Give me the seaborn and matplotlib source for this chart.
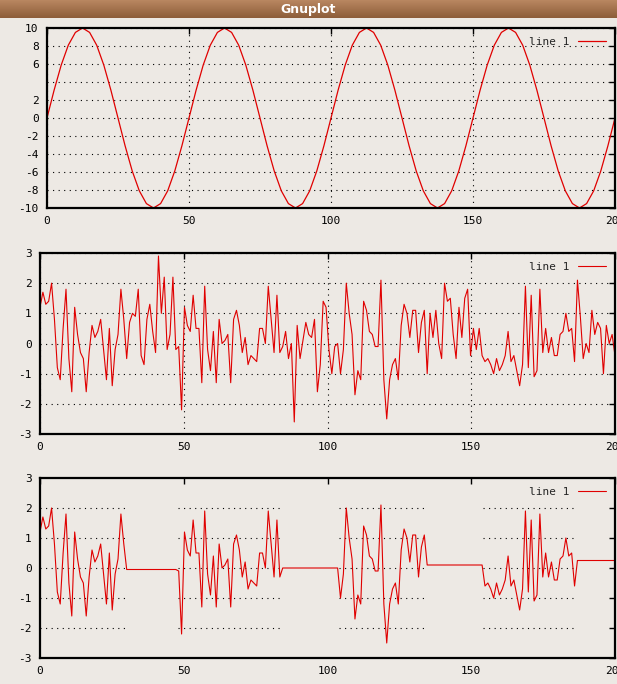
import numpy as np
import pandas as pd
import matplotlib
matplotlib.use("Agg")
import matplotlib.pyplot as plt
import seaborn as sns

sns.set_theme(style="white")
plt.rcParams['font.family'] = ['DejaVu Sans Mono', 'DejaVu Sans']

# --- data ---
sine_cycle = [0, 3.09, 5.88, 8.09, 9.51, 10, 9.51, 8.09, 5.88, 3.09,
              0, -3.09, -5.88, -8.09, -9.51, -10, -9.51, -8.09, -5.88, -3.09]
sine_vals = sine_cycle * 4 + [0.0]

noise_vals = [1.2, 1.7, 1.3, 1.4, 2.0, 0.8, -0.8, -1.2, 0.5, 1.8,
              -0.5, -1.6, 1.2, 0.3, -0.3, -0.5, -1.6, -0.3, 0.6, 0.2,
              0.4, 0.8, -0.2, -1.2, 0.5, -1.4, -0.2, 0.3, 1.8, 0.8,
              -0.5, 0.7, 1.0, 0.9, 1.8, -0.4, -0.7, 0.8, 1.3, 0.4,
              -0.3, 2.9, 1.0, 2.2, -0.2, 0.3, 2.2, -0.2, -0.1, -2.2,
              1.2, 0.6, 0.4, 1.6, 0.5, 0.5, -1.3, 1.9, -0.2, -0.9,
              0.4, -1.3, 0.8, 0.0, 0.1, 0.3, -1.3, 0.8, 1.1, 0.6,
              -0.3, 0.2, -0.7, -0.4, -0.5, -0.6, 0.5, 0.5, 0.0, 1.9,
              0.8, -0.3, 1.6, -0.3, -0.1, 0.4, -0.5, 0.0, -2.6, 0.6,
              -0.5, 0.1, 0.7, 0.3, 0.2, 0.8, -1.6, -0.7, 1.4, 1.2,
              -0.2, -1.0, -0.1, 0.0, -1.0, -0.2, 2.0, 1.0, 0.3, -1.7,
              -0.9, -1.2, 1.4, 1.1, 0.4, 0.3, -0.1, -0.1, 2.1, -1.2,
              -2.5, -1.2, -0.7, -0.5, -1.2, 0.6, 1.3, 1.0, 0.2, 1.1,
              1.1, -0.3, 0.7, 1.1, -1.0, 1.0, 0.2, 1.1, 0.0, -0.5,
              2.0, 1.4, 1.5, 0.3, -0.5, 1.2, 0.2, 1.5, 1.8, -0.4,
              0.5, -0.2, 0.5, -0.4, -0.6, -0.5, -0.7, -1.0, -0.5, -0.9,
              -0.7, -0.4, 0.4, -0.6, -0.4, -0.9, -1.4, -0.7, 1.9, -0.8,
              1.6, -1.1, -0.9, 1.8, -0.3, 0.5, -0.3, 0.2, -0.4, -0.4,
              0.3, 0.4, 1.0, 0.4, 0.5, -0.6, 2.1, 0.9, -0.5, 0.0,
              -0.3, 1.1, 0.3, 0.7, 0.5, -1.0, 0.6, 0.0, 0.3, -0.4]

# bottom panel: noise segments (start, end) and flat levels between them
seg_starts = [0, 48, 104, 154]
seg_ends = [30, 84, 134, 186]
flat_levels = [-0.05, 0.0, 0.1, 0.25]

bg = "#EDE9E4"
red = "#E00000"
W, H = 617, 684
fig = plt.figure(figsize=(W / 100, H / 100), dpi=100, facecolor=bg)

# title bar
tb = fig.add_axes([0, 1 - 18 / H, 1, 18 / H])
tb.imshow(np.linspace(0, 1, 18)[:, None] * np.ones((1, 10)), aspect='auto',
          cmap=matplotlib.colors.LinearSegmentedColormap.from_list("t", ["#B88660", "#8E5E3A"]),
          extent=[0, 1, 0, 1])
tb.set_axis_off()
tb.text(0.5, 0.5, "Gnuplot", color="white", fontweight="bold", ha="center",
        va="center", fontsize=9, family="DejaVu Sans")


def make_ax(l, t, r, b):
    return fig.add_axes([l / W, 1 - b / H, (r - l) / W, (b - t) / H])


def style(ax, yticks, ylabels, ylim, vgrid=True):
    ax.set_facecolor(bg)
    ax.set_xlim(0, 200)
    ax.set_ylim(*ylim)
    ax.set_xticks([0, 50, 100, 150, 200])
    ax.set_xticklabels(["0", "50", "100", "150", "200"])
    ax.set_yticks(yticks)
    ax.set_yticklabels(ylabels)
    ax.tick_params(direction="in", length=4, width=1, labelsize=8, colors="black",
                   top=True, right=True, pad=6)
    for s in ax.spines.values():
        s.set_color("black")
        s.set_linewidth(1.6)
    ax.set_xlabel("")
    ax.set_ylabel("")
    leg = ax.legend(loc="upper right", frameon=False, fontsize=8, handlelength=2.5,
                    markerfirst=False, borderaxespad=0.4)


gridkw = dict(color="black", linestyle=(0, (1, 4)), linewidth=0.8)

# top
ax1 = make_ax(47, 28, 615, 208)
df1 = pd.DataFrame({"x": np.linspace(0, 200, len(sine_vals)), "y": sine_vals})
sns.lineplot(data=df1, x="x", y="y", ax=ax1, color=red, linewidth=0.9, label="line 1")
yt = list(range(-10, 11, 2))
style(ax1, yt, [("" if v == 4 else str(v)) for v in yt], (-10, 10))
ax1.grid(True, **gridkw)

# middle
ax2 = make_ax(40, 253, 615, 434)
xs = np.linspace(0, 200, len(noise_vals))
df2 = pd.DataFrame({"x": xs, "y": noise_vals})
sns.lineplot(data=df2, x="x", y="y", ax=ax2, color=red, linewidth=0.8, label="line 1")
style(ax2, list(range(-3, 4)), [str(v) for v in range(-3, 4)], (-3, 3))
ax2.grid(True, **gridkw)

# bottom
ax3 = make_ax(40, 478, 615, 658)
y3 = np.array(noise_vals, dtype=float)
prev_end = None
for i, (s, e) in enumerate(zip(seg_starts, seg_ends)):
    nxt = seg_starts[i + 1] if i + 1 < len(seg_starts) else 201
    y3[(xs > e) & (xs < nxt)] = flat_levels[i]
df3 = pd.DataFrame({"x": xs, "y": y3})
sns.lineplot(data=df3, x="x", y="y", ax=ax3, color=red, linewidth=0.8, label="line 1")
style(ax3, list(range(-3, 4)), [str(v) for v in range(-3, 4)], (-3, 3))
for s, e in zip(seg_starts, seg_ends):
    for lv in [-2, -1, 0, 1, 2]:
        ax3.plot([s, e], [lv, lv], zorder=0, **gridkw)

fig.savefig("out.png", dpi=100, facecolor=bg)
